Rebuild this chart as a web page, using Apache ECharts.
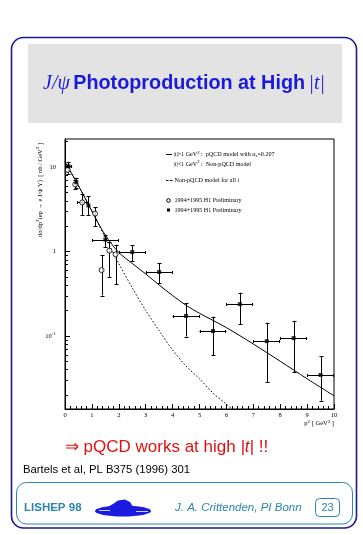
<!DOCTYPE html>
<html><head><meta charset="utf-8">
<script src="https://cdn.jsdelivr.net/npm/echarts@6/dist/echarts.min.js"></script>
<style>html,body{margin:0;padding:0;background:#fff}#c{width:363px;height:535px}</style>
</head><body><div id="c"></div>
<script>
// ---- data ----
const xTickLabels = ['0','1','2','3','4','5','6','7','8','9','10'];
const yTickLabels = ['10^-1','1','10'];
const yMinV = 0.0136, yMaxV = 21.4;

// open circles: 1994+1995 H1 Preliminary
const openX   = [0.10, 0.38, 0.64, 1.12, 1.36, 1.65, 1.88];
const openY   = [9.2, 6.2, 3.8, 2.8, 0.60, 1.02, 0.92];
const openYLo = [8.3, 5.5, 2.7, 2.0, 0.30, 0.50, 0.41];
const openYHi = [10.2, 7.0, 4.8, 3.35, 0.90, 1.30, 1.20];
const openXLo = [0.10, 0.38, 0.46, 1.12, 1.36, 1.65, 1.88];
const openXHi = [0.10, 0.38, 0.81, 1.12, 1.36, 1.65, 1.88];

// filled squares: 1994+1995 H1 Preliminary
const fillX   = [0.13, 0.42, 0.87, 1.5, 2.5, 3.5, 4.5, 5.5, 6.5, 7.5, 8.5, 9.5];
const fillY   = [10.2, 6.6, 3.5, 1.38, 0.98, 0.57, 0.172, 0.114, 0.237, 0.0865, 0.094, 0.0344];
const fillYLo = [9.0, 5.7, 2.66, 1.12, 0.77, 0.42, 0.098, 0.059, 0.138, 0.0283, 0.0372, 0.017];
const fillYHi = [11.5, 7.4, 4.5, 1.58, 1.19, 0.73, 0.243, 0.168, 0.325, 0.143, 0.151, 0.0575];
const fillXLo = [0, 0.42, 0.87, 1, 2, 3, 4, 5, 6, 7, 8, 9];
const fillXHi = [0.27, 0.42, 0.87, 2, 3, 4, 5, 6, 7, 8, 9, 10];

// model curves
const pqcdX = [0, 0.5, 1, 1.5, 2, 2.5, 3, 3.5, 4, 4.5, 5, 6, 7, 8, 9, 10];
const pqcdY = [11.5, 6.0, 3.0, 1.55, 0.97, 0.72, 0.54, 0.40, 0.30, 0.23, 0.185, 0.125, 0.08, 0.05, 0.031, 0.0195];
const nonX  = [0, 0.5, 1, 1.5, 2, 2.5, 3, 3.5, 4, 4.5, 5, 5.5, 6, 6.5];
const nonY  = [11.5, 6.0, 3.0, 1.45, 0.72, 0.37, 0.2, 0.115, 0.068, 0.044, 0.031, 0.021, 0.0155, 0.0115];

// ---- build ----
const zip = (...a) => a[0].map((_, i) => a.map(arr => arr[i]));
const minorTicks = [];
for (let k = -2; k <= 1; k++) for (let m = 2; m <= 9; m++) {
  const v = m * Math.pow(10, k);
  if (v > yMinV && v < yMaxV) minorTicks.push([0, v]);
}
const serif = 'Liberation Serif';
const sans = 'Liberation Sans';

function errRender(params, api) {
  const x = api.value(0), y = api.value(1), xl = api.value(2), xh = api.value(3), yl = api.value(4), yh = api.value(5);
  const lo = api.coord([x, yl]), hi = api.coord([x, yh]), L = api.coord([xl, y]), R = api.coord([xh, y]);
  const cx = Math.round(lo[0]) + 0.5, cy = Math.round(L[1]) + 0.5;
  const st = {stroke: '#000', lineWidth: 1};
  const ch = [
    {type: 'line', shape: {x1: cx, y1: lo[1], x2: cx, y2: hi[1]}, style: st},
    {type: 'line', shape: {x1: cx - 2, y1: Math.round(lo[1]) + 0.5, x2: cx + 2, y2: Math.round(lo[1]) + 0.5}, style: st},
    {type: 'line', shape: {x1: cx - 2, y1: Math.round(hi[1]) + 0.5, x2: cx + 2, y2: Math.round(hi[1]) + 0.5}, style: st}
  ];
  if (xh > xl) {
    ch.push({type: 'line', shape: {x1: L[0], y1: cy, x2: R[0], y2: cy}, style: st});
    ch.push({type: 'line', shape: {x1: Math.round(L[0]) + 0.5, y1: cy - 1.5, x2: Math.round(L[0]) + 0.5, y2: cy + 1.5}, style: st});
    ch.push({type: 'line', shape: {x1: Math.round(R[0]) - 0.5, y1: cy - 1.5, x2: Math.round(R[0]) - 0.5, y2: cy + 1.5}, style: st});
  }
  return {type: 'group', children: ch};
}

const chart = echarts.init(document.getElementById('c'), null, {renderer: 'canvas'});
const navy = '#1a1a90', teal = '#2a86aa', titleBlue = '#1a1ad8';

const option = {
  animation: false,
  backgroundColor: '#fff',
  grid: {left: 65, top: 139, width: 269, height: 270, show: true, borderColor: '#000', borderWidth: 1, backgroundColor: 'transparent'},
  xAxis: {
    type: 'value', min: 0, max: 10, interval: 1,
    axisLine: {show: true, lineStyle: {color: '#000', width: 1}},
    axisTick: {show: true, inside: true, length: 5, lineStyle: {color: '#000'}},
    minorTick: {show: true, splitNumber: 5, length: 3, lineStyle: {color: '#000'}},
    splitLine: {show: false},
    axisLabel: {margin: 3, fontFamily: serif, fontSize: 6.5, color: '#000',
      formatter: v => xTickLabels[Math.round(v)]}
  },
  yAxis: {
    type: 'log', logBase: 10, min: yMinV, max: yMaxV,
    axisLine: {show: true, lineStyle: {color: '#000', width: 1}},
    axisTick: {show: true, inside: true, length: 5, lineStyle: {color: '#000'}},
    splitLine: {show: false},
    axisLabel: {
      margin: 9, showMinLabel: false, showMaxLabel: false, color: '#000',
      fontFamily: serif, fontSize: 6.5,
      formatter: v => {
        const e = Math.round(Math.log10(v));
        const s = yTickLabels[e + 1];
        if (s === undefined) return '';
        if (s.indexOf('^') > 0) { const p = s.split('^'); return '{n|' + p[0] + '}{s|' + p[1] + '}'; }
        return s;
      },
      rich: {n: {fontFamily: serif, fontSize: 6.5, color: '#000'}, s: {fontFamily: serif, fontSize: 5, color: '#000', padding: [0, 0, 5, 0]}}
    }
  },
  series: [
    {type: 'custom', silent: true, data: minorTicks, encode: {x: 0, y: 1}, z: 5,
      renderItem: (params, api) => {
        const p = api.coord([api.value(0), api.value(1)]);
        const y = Math.round(p[1]) + 0.5;
        return {type: 'line', shape: {x1: p[0], y1: y, x2: p[0] + 3, y2: y}, style: {stroke: '#000', lineWidth: 1}};
      }},
    {type: 'line', name: 'pQCD', data: zip(pqcdX, pqcdY), showSymbol: false, smooth: 0.3,
      lineStyle: {color: '#000', width: 1}, z: 3},
    {type: 'line', name: 'nonpQCD', data: zip(nonX, nonY), showSymbol: false, smooth: 0.3,
      lineStyle: {color: '#000', width: 1, type: [1.5, 2]}, z: 3},
    {type: 'custom', name: 'errOpen', data: zip(openX, openY, openXLo, openXHi, openYLo, openYHi), encode: {x: 0, y: 1}, renderItem: errRender, z: 4},
    {type: 'custom', name: 'errFill', data: zip(fillX, fillY, fillXLo, fillXHi, fillYLo, fillYHi), encode: {x: 0, y: 1}, renderItem: errRender, z: 4},
    {type: 'scatter', name: 'open', data: zip(openX, openY), symbol: 'circle', symbolSize: 5,
      itemStyle: {color: '#fff', borderColor: '#000', borderWidth: 1}, z: 6},
    {type: 'scatter', name: 'filled', data: zip(fillX, fillY), symbol: 'rect', symbolSize: 4,
      itemStyle: {color: '#000'}, z: 6}
  ],
  graphic: [
    {type: 'rect', z: -10, shape: {x: 11.5, y: 37.5, width: 345, height: 490.5, r: 12}, style: {fill: 'none', stroke: navy, lineWidth: 1.6}},
    {type: 'rect', z: -9, shape: {x: 28, y: 44, width: 314, height: 79}, style: {fill: '#e3e3e3'}},
    {type: 'text', x: 184, y: 84, style: {
      text: '{i|J/\u03C8} {b|Photoproduction at High} {i||t|}', align: 'center', verticalAlign: 'middle',
      rich: {i: {fontFamily: serif, fontStyle: 'italic', fontSize: 20, fill: titleBlue},
             b: {fontFamily: sans, fontWeight: 'bold', fontSize: 19.8, fill: titleBlue}}}},
    // y axis title
    {type: 'text', x: 40, y: 190, rotation: Math.PI / 2, style: {
      text: '{a|d\u03C3/dp}{p|2}{a|(ep \u2192 e J/\u03C8 Y)  [ nb / GeV}{p|2}{a| ]}', align: 'center', verticalAlign: 'middle',
      rich: {a: {fontFamily: serif, fontSize: 6.5, fill: '#000'}, p: {fontFamily: serif, fontSize: 5, fill: '#000', padding: [0, 0, 4, 0]}}}},
    // x axis title
    {type: 'text', x: 334, y: 423.5, style: {
      text: '{a|p}{p|2}{a| [ GeV}{p|2}{a| ]}', align: 'right', verticalAlign: 'middle',
      rich: {a: {fontFamily: serif, fontSize: 6.5, fill: '#000'}, p: {fontFamily: serif, fontSize: 5, fill: '#000', padding: [0, 0, 4, 0]}}}},
    // legend
    {type: 'line', shape: {x1: 166, y1: 154.5, x2: 172, y2: 154.5}, style: {stroke: '#000', lineWidth: 1}},
    {type: 'text', x: 173.5, y: 154.5, style: {
      text: '{a||t|>1 GeV}{p|2}{a| :  pQCD model with \u03B1}{q|s}{a|=0.207}', verticalAlign: 'middle',
      rich: {a: {fontFamily: serif, fontSize: 6.1, fill: '#000'}, p: {fontFamily: serif, fontSize: 4.8, fill: '#000', padding: [0, 0, 4, 0]}, q: {fontFamily: serif, fontSize: 4.8, fill: '#000', padding: [3, 0, 0, 0]}}}},
    {type: 'text', x: 173.5, y: 164, style: {
      text: '{a||t|<1 GeV}{p|2}{a| :  Non-pQCD model}', verticalAlign: 'middle',
      rich: {a: {fontFamily: serif, fontSize: 6.1, fill: '#000'}, p: {fontFamily: serif, fontSize: 4.8, fill: '#000', padding: [0, 0, 4, 0]}}}},
    {type: 'line', shape: {x1: 166, y1: 180.5, x2: 173, y2: 180.5}, style: {stroke: '#000', lineWidth: 1, lineDash: [2.5, 1.5]}},
    {type: 'text', x: 174.5, y: 180, style: {text: 'Non-pQCD model for all t', verticalAlign: 'middle', fontFamily: serif, fontSize: 6.1, fill: '#000'}},
    {type: 'circle', shape: {cx: 168.5, cy: 200.5, r: 1.8}, style: {fill: '#fff', stroke: '#000', lineWidth: 1}},
    {type: 'text', x: 174.5, y: 200.5, style: {text: '1994+1995 H1 Preliminary', verticalAlign: 'middle', fontFamily: serif, fontSize: 6.1, fill: '#000'}},
    {type: 'rect', shape: {x: 167, y: 208.5, width: 3, height: 3}, style: {fill: '#000'}},
    {type: 'text', x: 174.5, y: 210, style: {text: '1994+1995 H1 Preliminary', verticalAlign: 'middle', fontFamily: serif, fontSize: 6.1, fill: '#000'}},
    // conclusion
    {type: 'text', x: 166.5, y: 447.5, style: {
      text: '{a|\u21D2 pQCD works at high }{i||t|}{a| !!}', align: 'center', verticalAlign: 'middle',
      rich: {a: {fontFamily: sans, fontSize: 17, fill: '#e01010'}, i: {fontFamily: sans, fontStyle: 'italic', fontSize: 17, fill: '#e01010'}}}},
    {type: 'text', x: 23, y: 469.5, style: {text: 'Bartels et al, PL B375 (1996) 301', verticalAlign: 'middle', fontFamily: sans, fontSize: 11.3, fill: '#000'}},
    // footer
    {type: 'rect', shape: {x: 16.5, y: 482.5, width: 336, height: 41.5, r: 10}, style: {fill: 'none', stroke: teal, lineWidth: 1}},
    {type: 'text', x: 24, y: 507.5, style: {text: 'LISHEP 98', verticalAlign: 'middle', fontFamily: sans, fontWeight: 'bold', fontSize: 11.5, fill: teal}},
    {type: 'ellipse', shape: {cx: 123, cy: 511, rx: 28, ry: 5.5}, style: {fill: '#1a1ae0'}},
    {type: 'polygon', shape: {points: [[104, 509], [113, 504], [118, 500.5], [125, 499.5], [130, 502], [133, 507], [144, 509]]}, style: {fill: '#1a1ae0'}},
    {type: 'line', shape: {x1: 99, y1: 510.5, x2: 110, y2: 510.5}, style: {stroke: '#fff', lineWidth: 0.8}},
    {type: 'line', shape: {x1: 136, y1: 511.5, x2: 148, y2: 511.5}, style: {stroke: '#fff', lineWidth: 0.8}},
    {type: 'text', x: 175, y: 507.5, style: {text: 'J. A. Crittenden, PI Bonn', verticalAlign: 'middle', fontFamily: sans, fontStyle: 'italic', fontSize: 11.5, fill: teal}},
    {type: 'rect', shape: {x: 315.5, y: 498.5, width: 24, height: 18, r: 4}, style: {fill: 'none', stroke: teal, lineWidth: 1}},
    {type: 'text', x: 327.5, y: 508, style: {text: '23', align: 'center', verticalAlign: 'middle', fontFamily: sans, fontSize: 11, fill: teal}}
  ]
};
chart.setOption(option);
</script></body></html>
